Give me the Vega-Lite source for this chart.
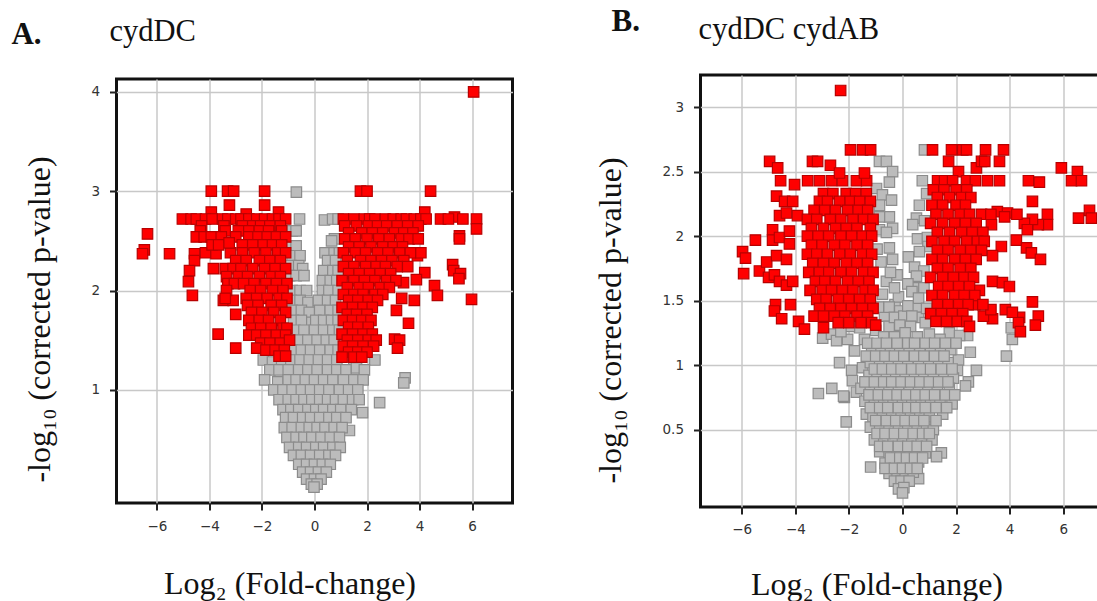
{"$schema":"https://vega.github.io/schema/vega-lite/v6.json","padding":{"left":9.5,"top":4,"right":0,"bottom":0},"background":"white","spacing":188,"center":true,"bounds":"flush","config":{"view":{"stroke":"#111","strokeWidth":3},"axis":{"grid":true,"gridColor":"#c8c8c8","gridWidth":1.5,"domain":false,"tickColor":"#222","tickWidth":2,"tickSize":7,"labelFont":"DejaVu Sans","labelFontSize":13.5,"labelColor":"#333","titleFont":"Liberation Serif","titleFontSize":32,"titleFontWeight":"normal","titleColor":"#111"}},"datasets":{"aGray":[{"x":-0.69,"y":2.99},{"x":-0.57,"y":2.72},{"x":0.38,"y":2.71},{"x":0.69,"y":2.72},{"x":0.9,"y":2.72},{"x":0.76,"y":2.52},{"x":0.65,"y":2.5},{"x":-0.85,"y":2.6},{"x":-0.7,"y":2.6},{"x":-0.9,"y":2.45},{"x":-0.7,"y":2.45},{"x":-0.85,"y":2.35},{"x":-0.55,"y":2.35},{"x":-0.9,"y":2.25},{"x":-0.6,"y":2.25},{"x":-0.45,"y":2.22},{"x":-0.95,"y":2.15},{"x":-0.7,"y":2.15},{"x":-0.4,"y":2.15},{"x":-0.85,"y":2.0},{"x":-0.55,"y":2.0},{"x":-0.3,"y":2.0},{"x":-0.9,"y":1.9},{"x":-0.55,"y":1.9},{"x":-0.25,"y":1.88},{"x":-0.85,"y":1.8},{"x":-0.5,"y":1.8},{"x":-0.2,"y":1.78},{"x":-0.8,"y":1.7},{"x":-0.5,"y":1.7},{"x":-0.1,"y":1.68},{"x":0.4,"y":2.38},{"x":0.75,"y":2.38},{"x":0.95,"y":2.38},{"x":0.5,"y":2.3},{"x":0.8,"y":2.3},{"x":0.35,"y":2.2},{"x":0.7,"y":2.2},{"x":0.9,"y":2.2},{"x":0.3,"y":2.1},{"x":0.6,"y":2.1},{"x":0.85,"y":2.1},{"x":0.3,"y":2.0},{"x":0.55,"y":2.0},{"x":0.9,"y":2.0},{"x":0.15,"y":1.9},{"x":0.5,"y":1.9},{"x":0.8,"y":1.9},{"x":0.2,"y":1.8},{"x":0.6,"y":1.8},{"x":0.9,"y":1.8},{"x":0.05,"y":1.7},{"x":0.35,"y":1.7},{"x":0.65,"y":1.7},{"x":0.9,"y":1.7},{"x":-0.75,"y":1.6},{"x":-0.4,"y":1.6},{"x":0.0,"y":1.6},{"x":0.35,"y":1.6},{"x":0.7,"y":1.6},{"x":0.95,"y":1.6},{"x":-0.95,"y":1.5},{"x":-0.6,"y":1.5},{"x":-0.25,"y":1.5},{"x":0.1,"y":1.5},{"x":0.45,"y":1.5},{"x":0.75,"y":1.5},{"x":-0.85,"y":1.4},{"x":-0.5,"y":1.4},{"x":-0.15,"y":1.4},{"x":0.2,"y":1.4},{"x":0.6,"y":1.4},{"x":0.9,"y":1.4},{"x":-1.95,"y":1.3},{"x":-1.6,"y":1.28},{"x":-1.25,"y":1.3},{"x":-0.9,"y":1.3},{"x":-0.55,"y":1.3},{"x":-0.2,"y":1.3},{"x":0.15,"y":1.3},{"x":0.5,"y":1.3},{"x":0.85,"y":1.3},{"x":1.5,"y":1.3},{"x":2.3,"y":1.3},{"x":-1.7,"y":1.2},{"x":-1.35,"y":1.2},{"x":-1.0,"y":1.2},{"x":-0.6,"y":1.2},{"x":-0.25,"y":1.2},{"x":0.1,"y":1.2},{"x":0.5,"y":1.2},{"x":0.85,"y":1.2},{"x":1.2,"y":1.2},{"x":1.6,"y":1.22},{"x":1.9,"y":1.2},{"x":-1.9,"y":1.1},{"x":-1.4,"y":1.08},{"x":-1.0,"y":1.1},{"x":-0.7,"y":1.1},{"x":-0.35,"y":1.1},{"x":0.0,"y":1.1},{"x":0.35,"y":1.1},{"x":0.7,"y":1.1},{"x":1.1,"y":1.1},{"x":1.5,"y":1.1},{"x":1.85,"y":1.1},{"x":-1.55,"y":1.0},{"x":-1.2,"y":1.0},{"x":-0.85,"y":1.0},{"x":-0.5,"y":1.0},{"x":-0.15,"y":1.0},{"x":0.2,"y":1.0},{"x":0.55,"y":1.0},{"x":0.95,"y":1.0},{"x":1.3,"y":1.0},{"x":1.65,"y":1.0},{"x":3.45,"y":1.12},{"x":3.4,"y":1.07},{"x":2.48,"y":0.87},{"x":1.83,"y":0.77},{"x":1.33,"y":0.59},{"x":-1.35,"y":0.9},{"x":-1.0,"y":0.9},{"x":-0.7,"y":0.9},{"x":-0.4,"y":0.9},{"x":-0.1,"y":0.9},{"x":0.2,"y":0.9},{"x":0.5,"y":0.9},{"x":0.8,"y":0.9},{"x":1.1,"y":0.9},{"x":1.45,"y":0.9},{"x":1.7,"y":0.9},{"x":-1.2,"y":0.8},{"x":-0.9,"y":0.8},{"x":-0.6,"y":0.8},{"x":-0.25,"y":0.8},{"x":0.05,"y":0.8},{"x":0.35,"y":0.8},{"x":0.7,"y":0.8},{"x":1.0,"y":0.8},{"x":1.4,"y":0.8},{"x":-1.1,"y":0.72},{"x":-0.8,"y":0.72},{"x":-0.45,"y":0.72},{"x":-0.15,"y":0.72},{"x":0.2,"y":0.72},{"x":0.55,"y":0.72},{"x":0.85,"y":0.72},{"x":1.2,"y":0.72},{"x":-1.15,"y":0.62},{"x":-0.85,"y":0.62},{"x":-0.5,"y":0.62},{"x":-0.2,"y":0.62},{"x":0.1,"y":0.62},{"x":0.4,"y":0.62},{"x":0.75,"y":0.62},{"x":1.05,"y":0.62},{"x":-1.05,"y":0.52},{"x":-0.7,"y":0.52},{"x":-0.4,"y":0.52},{"x":-0.1,"y":0.52},{"x":0.25,"y":0.52},{"x":0.6,"y":0.52},{"x":0.95,"y":0.52},{"x":-0.95,"y":0.42},{"x":-0.6,"y":0.42},{"x":-0.3,"y":0.42},{"x":0.05,"y":0.42},{"x":0.35,"y":0.42},{"x":0.7,"y":0.42},{"x":0.98,"y":0.42},{"x":-0.8,"y":0.34},{"x":-0.5,"y":0.34},{"x":-0.15,"y":0.34},{"x":0.2,"y":0.34},{"x":0.55,"y":0.34},{"x":0.8,"y":0.34},{"x":-0.6,"y":0.25},{"x":-0.3,"y":0.25},{"x":0.0,"y":0.25},{"x":0.3,"y":0.25},{"x":0.6,"y":0.25},{"x":-0.45,"y":0.17},{"x":-0.15,"y":0.17},{"x":0.15,"y":0.17},{"x":0.45,"y":0.17},{"x":-0.3,"y":0.1},{"x":0.0,"y":0.1},{"x":0.25,"y":0.1},{"x":-0.12,"y":0.05},{"x":0.1,"y":0.05},{"x":-0.02,"y":0.02}],"aRed":[{"x":-6.36,"y":2.57},{"x":-6.48,"y":2.41},{"x":-6.55,"y":2.37},{"x":-5.52,"y":2.37},{"x":-3.93,"y":3.0},{"x":-3.31,"y":3.0},{"x":-3.08,"y":3.0},{"x":-1.9,"y":3.0},{"x":-3.24,"y":2.86},{"x":-1.9,"y":2.86},{"x":-3.93,"y":2.79},{"x":-2.6,"y":2.77},{"x":-1.37,"y":2.79},{"x":-4.57,"y":2.37},{"x":-4.57,"y":2.3},{"x":-4.76,"y":2.2},{"x":-4.8,"y":2.09},{"x":-4.65,"y":1.95},{"x":-3.85,"y":2.22},{"x":-3.47,"y":1.9},{"x":-3.1,"y":1.9},{"x":-3.0,"y":1.76},{"x":-3.67,"y":1.56},{"x":-3.0,"y":1.42},{"x":-4.15,"y":2.38},{"x":-3.75,"y":2.37},{"x":-3.2,"y":2.38},{"x":-5.03,"y":2.72},{"x":-4.7,"y":2.72},{"x":-4.5,"y":2.72},{"x":-4.15,"y":2.72},{"x":-3.9,"y":2.72},{"x":-3.5,"y":2.72},{"x":-3.3,"y":2.72},{"x":-3.0,"y":2.72},{"x":-2.8,"y":2.72},{"x":-2.5,"y":2.72},{"x":-2.2,"y":2.72},{"x":-1.9,"y":2.72},{"x":-1.6,"y":2.72},{"x":-1.35,"y":2.72},{"x":-1.1,"y":2.72},{"x":-4.3,"y":2.65},{"x":-3.45,"y":2.65},{"x":-2.75,"y":2.65},{"x":-2.35,"y":2.65},{"x":-2.05,"y":2.65},{"x":-1.7,"y":2.65},{"x":-1.3,"y":2.65},{"x":-4.35,"y":2.6},{"x":-3.4,"y":2.6},{"x":-2.9,"y":2.6},{"x":-2.5,"y":2.6},{"x":-2.1,"y":2.6},{"x":-1.75,"y":2.6},{"x":-1.25,"y":2.6},{"x":-4.5,"y":2.54},{"x":-4.2,"y":2.54},{"x":-3.93,"y":2.54},{"x":-3.55,"y":2.54},{"x":-3.0,"y":2.54},{"x":-2.5,"y":2.54},{"x":-2.15,"y":2.54},{"x":-1.8,"y":2.54},{"x":-1.45,"y":2.54},{"x":-1.1,"y":2.54},{"x":-3.9,"y":2.46},{"x":-3.65,"y":2.46},{"x":-3.25,"y":2.48},{"x":-2.75,"y":2.46},{"x":-2.35,"y":2.46},{"x":-1.95,"y":2.46},{"x":-1.6,"y":2.46},{"x":-1.25,"y":2.46},{"x":-2.75,"y":2.38},{"x":-2.3,"y":2.38},{"x":-1.85,"y":2.38},{"x":-1.4,"y":2.38},{"x":-1.1,"y":2.38},{"x":-3.0,"y":2.3},{"x":-2.6,"y":2.3},{"x":-2.1,"y":2.3},{"x":-1.7,"y":2.3},{"x":-1.3,"y":2.3},{"x":-3.4,"y":2.22},{"x":-3.1,"y":2.22},{"x":-2.8,"y":2.22},{"x":-2.35,"y":2.22},{"x":-1.9,"y":2.22},{"x":-1.5,"y":2.22},{"x":-1.1,"y":2.22},{"x":-3.35,"y":2.14},{"x":-2.9,"y":2.14},{"x":-2.55,"y":2.14},{"x":-2.1,"y":2.14},{"x":-1.65,"y":2.14},{"x":-1.3,"y":2.14},{"x":-3.3,"y":2.07},{"x":-3.05,"y":2.07},{"x":-2.7,"y":2.07},{"x":-2.3,"y":2.07},{"x":-1.85,"y":2.07},{"x":-1.45,"y":2.07},{"x":-1.05,"y":2.07},{"x":-3.35,"y":2.0},{"x":-2.45,"y":2.0},{"x":-2.05,"y":2.0},{"x":-1.6,"y":2.0},{"x":-1.2,"y":2.0},{"x":-3.4,"y":1.92},{"x":-2.6,"y":1.92},{"x":-2.2,"y":1.92},{"x":-1.8,"y":1.92},{"x":-1.35,"y":1.92},{"x":-1.05,"y":1.92},{"x":-2.55,"y":1.85},{"x":-2.15,"y":1.85},{"x":-1.65,"y":1.85},{"x":-1.25,"y":1.85},{"x":-2.4,"y":1.78},{"x":-2.0,"y":1.78},{"x":-1.55,"y":1.78},{"x":-1.1,"y":1.78},{"x":-2.5,"y":1.7},{"x":-2.1,"y":1.7},{"x":-1.75,"y":1.7},{"x":-1.3,"y":1.7},{"x":-2.4,"y":1.62},{"x":-2.05,"y":1.62},{"x":-1.65,"y":1.62},{"x":-1.2,"y":1.62},{"x":-1.05,"y":1.62},{"x":-2.5,"y":1.55},{"x":-2.2,"y":1.55},{"x":-1.85,"y":1.55},{"x":-1.45,"y":1.55},{"x":-1.1,"y":1.55},{"x":-2.05,"y":1.47},{"x":-1.7,"y":1.47},{"x":-1.3,"y":1.47},{"x":-0.95,"y":1.5},{"x":-2.2,"y":1.42},{"x":-1.85,"y":1.4},{"x":-1.5,"y":1.4},{"x":-1.15,"y":1.4},{"x":-1.35,"y":1.34},{"x":-1.1,"y":1.34},{"x":1.75,"y":3.0},{"x":2.0,"y":3.0},{"x":4.42,"y":3.0},{"x":4.2,"y":2.79},{"x":1.1,"y":2.72},{"x":1.5,"y":2.72},{"x":1.9,"y":2.72},{"x":2.1,"y":2.72},{"x":2.3,"y":2.72},{"x":2.7,"y":2.72},{"x":3.0,"y":2.72},{"x":3.3,"y":2.72},{"x":3.5,"y":2.72},{"x":3.8,"y":2.72},{"x":4.05,"y":2.72},{"x":4.25,"y":2.72},{"x":4.8,"y":2.72},{"x":5.33,"y":2.74},{"x":5.1,"y":2.72},{"x":5.65,"y":2.72},{"x":6.17,"y":2.72},{"x":6.17,"y":2.62},{"x":5.52,"y":2.55},{"x":5.52,"y":2.52},{"x":5.26,"y":2.26},{"x":5.3,"y":2.2},{"x":5.56,"y":2.17},{"x":5.5,"y":2.12},{"x":4.57,"y":2.05},{"x":4.68,"y":1.95},{"x":5.98,"y":1.91},{"x":6.06,"y":4.0},{"x":4.2,"y":2.18},{"x":3.92,"y":2.35},{"x":4.05,"y":2.38},{"x":3.8,"y":1.9},{"x":3.32,"y":1.92},{"x":3.12,"y":1.8},{"x":3.58,"y":1.67},{"x":3.05,"y":1.51},{"x":3.24,"y":1.5},{"x":3.16,"y":1.42},{"x":3.88,"y":2.11},{"x":3.39,"y":2.08},{"x":1.15,"y":2.65},{"x":1.6,"y":2.65},{"x":2.05,"y":2.65},{"x":2.4,"y":2.65},{"x":2.75,"y":2.65},{"x":3.15,"y":2.65},{"x":3.55,"y":2.65},{"x":3.95,"y":2.65},{"x":1.3,"y":2.58},{"x":1.8,"y":2.58},{"x":2.2,"y":2.58},{"x":2.6,"y":2.58},{"x":3.05,"y":2.58},{"x":3.4,"y":2.58},{"x":3.75,"y":2.58},{"x":1.15,"y":2.52},{"x":1.55,"y":2.52},{"x":2.0,"y":2.52},{"x":2.45,"y":2.52},{"x":2.85,"y":2.52},{"x":3.3,"y":2.52},{"x":3.6,"y":2.52},{"x":3.95,"y":2.52},{"x":1.3,"y":2.44},{"x":1.7,"y":2.44},{"x":2.15,"y":2.44},{"x":2.6,"y":2.44},{"x":3.0,"y":2.44},{"x":3.35,"y":2.44},{"x":1.1,"y":2.38},{"x":1.55,"y":2.38},{"x":1.95,"y":2.38},{"x":2.4,"y":2.38},{"x":2.8,"y":2.38},{"x":3.25,"y":2.38},{"x":3.65,"y":2.38},{"x":1.25,"y":2.3},{"x":1.75,"y":2.3},{"x":2.15,"y":2.3},{"x":2.55,"y":2.3},{"x":2.95,"y":2.3},{"x":3.4,"y":2.3},{"x":1.1,"y":2.24},{"x":1.5,"y":2.24},{"x":1.95,"y":2.24},{"x":2.35,"y":2.24},{"x":2.7,"y":2.24},{"x":3.15,"y":2.24},{"x":3.55,"y":2.24},{"x":1.3,"y":2.17},{"x":1.7,"y":2.17},{"x":2.1,"y":2.17},{"x":2.5,"y":2.17},{"x":2.9,"y":2.17},{"x":1.05,"y":2.1},{"x":1.5,"y":2.1},{"x":1.9,"y":2.1},{"x":2.3,"y":2.1},{"x":2.75,"y":2.1},{"x":3.1,"y":2.1},{"x":1.25,"y":2.03},{"x":1.7,"y":2.03},{"x":2.05,"y":2.03},{"x":2.5,"y":2.03},{"x":2.85,"y":2.03},{"x":1.1,"y":1.96},{"x":1.5,"y":1.96},{"x":1.85,"y":1.96},{"x":2.3,"y":1.96},{"x":2.6,"y":1.96},{"x":1.3,"y":1.9},{"x":1.65,"y":1.9},{"x":2.05,"y":1.9},{"x":2.4,"y":1.9},{"x":1.05,"y":1.83},{"x":1.45,"y":1.83},{"x":1.85,"y":1.83},{"x":2.2,"y":1.83},{"x":1.25,"y":1.76},{"x":1.6,"y":1.76},{"x":2.0,"y":1.76},{"x":1.1,"y":1.7},{"x":1.45,"y":1.7},{"x":1.8,"y":1.7},{"x":2.15,"y":1.7},{"x":1.3,"y":1.63},{"x":1.65,"y":1.63},{"x":2.05,"y":1.63},{"x":1.05,"y":1.56},{"x":1.45,"y":1.56},{"x":1.85,"y":1.56},{"x":2.2,"y":1.56},{"x":1.25,"y":1.5},{"x":1.65,"y":1.5},{"x":2.05,"y":1.5},{"x":2.35,"y":1.5},{"x":1.1,"y":1.44},{"x":1.45,"y":1.44},{"x":1.85,"y":1.44},{"x":2.25,"y":1.44},{"x":1.3,"y":1.38},{"x":1.65,"y":1.38},{"x":2.0,"y":1.38},{"x":1.05,"y":1.33},{"x":1.5,"y":1.33},{"x":1.8,"y":1.33}],"bGray":[{"x":0.82,"y":2.67},{"x":-0.86,"y":2.58},{"x":-0.6,"y":2.58},{"x":-0.37,"y":2.5},{"x":-0.49,"y":2.42},{"x":-0.97,"y":2.37},{"x":-0.75,"y":2.32},{"x":-0.41,"y":2.28},{"x":-0.86,"y":2.24},{"x":-0.49,"y":2.15},{"x":-0.86,"y":2.15},{"x":-0.37,"y":2.06},{"x":-0.86,"y":2.05},{"x":-0.6,"y":2.03},{"x":-0.49,"y":1.91},{"x":-0.95,"y":1.9},{"x":-0.37,"y":1.82},{"x":-0.8,"y":1.8},{"x":-0.6,"y":1.65},{"x":-0.2,"y":1.7},{"x":-0.75,"y":1.55},{"x":-0.28,"y":1.47},{"x":-0.67,"y":1.38},{"x":-0.5,"y":1.3},{"x":-0.15,"y":1.53},{"x":-0.45,"y":1.72},{"x":-0.9,"y":1.45},{"x":-0.5,"y":1.45},{"x":-0.1,"y":1.42},{"x":0.55,"y":1.45},{"x":-0.3,"y":1.6},{"x":0.55,"y":1.6},{"x":-0.3,"y":1.37},{"x":0.05,"y":1.38},{"x":0.6,"y":1.37},{"x":0.74,"y":2.43},{"x":0.9,"y":2.33},{"x":0.63,"y":2.24},{"x":0.52,"y":2.14},{"x":0.38,"y":2.09},{"x":0.82,"y":2.12},{"x":0.56,"y":1.98},{"x":0.93,"y":1.99},{"x":0.95,"y":1.92},{"x":0.63,"y":1.88},{"x":0.22,"y":1.84},{"x":0.45,"y":1.76},{"x":0.8,"y":1.73},{"x":0.52,"y":1.69},{"x":0.2,"y":1.63},{"x":0.8,"y":1.6},{"x":0.35,"y":1.57},{"x":0.6,"y":1.52},{"x":0.2,"y":1.46},{"x":0.9,"y":1.44},{"x":0.35,"y":1.38},{"x":-0.1,"y":1.31},{"x":0.3,"y":1.3},{"x":0.85,"y":1.33},{"x":4.06,"y":1.29},{"x":4.1,"y":1.2},{"x":3.88,"y":1.07},{"x":-3.14,"y":0.78},{"x":-2.64,"y":0.82},{"x":-2.17,"y":0.75},{"x":-2.2,"y":0.76},{"x":-1.72,"y":0.79},{"x":-2.1,"y":0.56},{"x":-1.19,"y":0.21},{"x":1.45,"y":0.32},{"x":1.27,"y":0.29},{"x":0.6,"y":0.12},{"x":2.76,"y":0.96},{"x":2.53,"y":1.1},{"x":2.46,"y":0.87},{"x":2.35,"y":0.84},{"x":2.09,"y":1.04},{"x":2.05,"y":0.96},{"x":1.75,"y":1.25},{"x":2.43,"y":1.23},{"x":2.13,"y":1.23},{"x":-2.98,"y":1.21},{"x":-2.65,"y":1.24},{"x":-2.46,"y":1.19},{"x":-2.05,"y":1.2},{"x":-1.79,"y":1.11},{"x":-2.35,"y":1.02},{"x":-1.9,"y":0.96},{"x":-1.87,"y":0.88},{"x":-1.42,"y":1.2},{"x":-1.49,"y":0.98},{"x":-1.6,"y":1.29},{"x":-1.98,"y":1.3},{"x":-2.3,"y":1.26},{"x":-1.0,"y":1.27},{"x":-0.7,"y":1.22},{"x":-0.3,"y":1.22},{"x":0.1,"y":1.25},{"x":0.55,"y":1.22},{"x":1.0,"y":1.24},{"x":1.4,"y":1.2},{"x":-1.15,"y":1.12},{"x":-0.8,"y":1.12},{"x":-0.45,"y":1.13},{"x":-0.1,"y":1.1},{"x":0.25,"y":1.13},{"x":0.65,"y":1.12},{"x":1.05,"y":1.12},{"x":1.42,"y":1.1},{"x":1.8,"y":1.12},{"x":-1.2,"y":1.02},{"x":-0.85,"y":1.03},{"x":-0.5,"y":1.0},{"x":-0.15,"y":1.03},{"x":0.2,"y":1.0},{"x":0.6,"y":1.02},{"x":0.98,"y":1.03},{"x":1.35,"y":1.0},{"x":1.7,"y":1.02},{"x":-1.25,"y":0.92},{"x":-0.95,"y":0.91},{"x":-0.6,"y":0.92},{"x":-0.25,"y":0.9},{"x":0.1,"y":0.92},{"x":0.45,"y":0.9},{"x":0.8,"y":0.92},{"x":1.15,"y":0.9},{"x":1.55,"y":0.91},{"x":1.9,"y":0.9},{"x":-1.55,"y":0.82},{"x":-1.2,"y":0.82},{"x":-0.85,"y":0.8},{"x":-0.5,"y":0.82},{"x":-0.15,"y":0.8},{"x":0.25,"y":0.82},{"x":0.6,"y":0.8},{"x":0.95,"y":0.82},{"x":1.3,"y":0.8},{"x":1.75,"y":0.82},{"x":-1.4,"y":0.72},{"x":-1.05,"y":0.7},{"x":-0.7,"y":0.72},{"x":-0.35,"y":0.7},{"x":0.0,"y":0.72},{"x":0.35,"y":0.7},{"x":0.7,"y":0.72},{"x":1.05,"y":0.7},{"x":1.4,"y":0.72},{"x":1.85,"y":0.7},{"x":-1.35,"y":0.62},{"x":-1.1,"y":0.6},{"x":-0.75,"y":0.62},{"x":-0.4,"y":0.6},{"x":-0.05,"y":0.62},{"x":0.3,"y":0.6},{"x":0.65,"y":0.62},{"x":1.0,"y":0.6},{"x":1.5,"y":0.62},{"x":-1.2,"y":0.52},{"x":-0.85,"y":0.5},{"x":-0.5,"y":0.52},{"x":-0.15,"y":0.5},{"x":0.2,"y":0.52},{"x":0.55,"y":0.5},{"x":0.9,"y":0.52},{"x":1.15,"y":0.5},{"x":-1.05,"y":0.42},{"x":-0.7,"y":0.42},{"x":-0.35,"y":0.41},{"x":0.0,"y":0.42},{"x":0.35,"y":0.4},{"x":0.7,"y":0.42},{"x":1.1,"y":0.42},{"x":-0.85,"y":0.33},{"x":-0.5,"y":0.32},{"x":-0.2,"y":0.33},{"x":0.15,"y":0.32},{"x":0.5,"y":0.33},{"x":0.85,"y":0.32},{"x":-0.65,"y":0.24},{"x":-0.35,"y":0.24},{"x":-0.05,"y":0.25},{"x":0.3,"y":0.24},{"x":0.6,"y":0.25},{"x":-0.5,"y":0.16},{"x":-0.2,"y":0.17},{"x":0.1,"y":0.16},{"x":0.4,"y":0.17},{"x":-0.3,"y":0.1},{"x":-0.05,"y":0.1},{"x":0.25,"y":0.1},{"x":-0.15,"y":0.04},{"x":0.05,"y":0.05},{"x":0.0,"y":0.01},{"x":-1.3,"y":1.17},{"x":-0.95,"y":1.17},{"x":-0.6,"y":1.17},{"x":-0.2,"y":1.17},{"x":0.2,"y":1.17},{"x":0.45,"y":1.17},{"x":0.85,"y":1.17},{"x":1.2,"y":1.17},{"x":1.6,"y":1.17},{"x":2.0,"y":1.17},{"x":-1.35,"y":1.07},{"x":-1.0,"y":1.07},{"x":-0.65,"y":1.07},{"x":-0.3,"y":1.07},{"x":0.05,"y":1.07},{"x":0.45,"y":1.07},{"x":0.8,"y":1.07},{"x":1.2,"y":1.07},{"x":1.55,"y":1.07},{"x":-1.05,"y":0.97},{"x":-0.75,"y":0.97},{"x":-0.4,"y":0.97},{"x":-0.05,"y":0.97},{"x":0.35,"y":0.97},{"x":0.7,"y":0.97},{"x":1.05,"y":0.97},{"x":1.45,"y":0.97},{"x":1.85,"y":0.97},{"x":-1.4,"y":0.87},{"x":-1.05,"y":0.87},{"x":-0.7,"y":0.87},{"x":-0.4,"y":0.87},{"x":-0.05,"y":0.87},{"x":0.3,"y":0.87},{"x":0.65,"y":0.87},{"x":1.0,"y":0.87},{"x":1.35,"y":0.87},{"x":1.7,"y":0.87},{"x":-1.25,"y":0.77},{"x":-0.9,"y":0.77},{"x":-0.55,"y":0.77},{"x":-0.2,"y":0.77},{"x":0.15,"y":0.77},{"x":0.5,"y":0.77},{"x":0.85,"y":0.77},{"x":1.2,"y":0.77},{"x":1.6,"y":0.77},{"x":1.95,"y":0.77},{"x":-1.2,"y":0.67},{"x":-0.85,"y":0.67},{"x":-0.55,"y":0.67},{"x":-0.15,"y":0.67},{"x":0.2,"y":0.67},{"x":0.5,"y":0.67},{"x":0.85,"y":0.67},{"x":1.25,"y":0.67},{"x":1.65,"y":0.67},{"x":-1.0,"y":0.57},{"x":-0.6,"y":0.57},{"x":-0.25,"y":0.57},{"x":0.1,"y":0.57},{"x":0.45,"y":0.57},{"x":0.8,"y":0.57},{"x":1.25,"y":0.57},{"x":-0.95,"y":0.47},{"x":-0.65,"y":0.47},{"x":-0.3,"y":0.47},{"x":0.05,"y":0.47},{"x":0.4,"y":0.47},{"x":0.75,"y":0.47},{"x":1.0,"y":0.47},{"x":-0.85,"y":0.37},{"x":-0.55,"y":0.37},{"x":-0.15,"y":0.37},{"x":0.2,"y":0.37},{"x":0.55,"y":0.37},{"x":0.9,"y":0.37},{"x":-0.45,"y":0.28},{"x":-0.1,"y":0.28},{"x":0.15,"y":0.28},{"x":0.45,"y":0.28},{"x":0.75,"y":0.28},{"x":-0.65,"y":0.2},{"x":-0.3,"y":0.2},{"x":0.0,"y":0.2},{"x":0.3,"y":0.2},{"x":0.55,"y":0.2}],"bRed":[{"x":-2.31,"y":3.13},{"x":-1.94,"y":2.67},{"x":-1.49,"y":2.67},{"x":-1.19,"y":2.67},{"x":1.12,"y":2.67},{"x":1.83,"y":2.67},{"x":2.25,"y":2.67},{"x":2.39,"y":2.67},{"x":3.1,"y":2.67},{"x":3.77,"y":2.67},{"x":-4.96,"y":2.58},{"x":-4.66,"y":2.53},{"x":-4.55,"y":2.43},{"x":-4.03,"y":2.4},{"x":-3.36,"y":2.58},{"x":-3.17,"y":2.58},{"x":-2.69,"y":2.55},{"x":-3.54,"y":2.43},{"x":-3.1,"y":2.43},{"x":-2.65,"y":2.43},{"x":-2.24,"y":2.43},{"x":-1.72,"y":2.43},{"x":-1.34,"y":2.43},{"x":-2.35,"y":2.49},{"x":-1.42,"y":2.49},{"x":1.72,"y":2.58},{"x":2.76,"y":2.53},{"x":2.95,"y":2.58},{"x":3.07,"y":2.58},{"x":3.62,"y":2.58},{"x":2.09,"y":2.5},{"x":1.31,"y":2.43},{"x":1.57,"y":2.43},{"x":1.87,"y":2.43},{"x":2.39,"y":2.43},{"x":2.72,"y":2.43},{"x":3.17,"y":2.43},{"x":3.62,"y":2.43},{"x":4.7,"y":2.43},{"x":5.11,"y":2.42},{"x":5.93,"y":2.53},{"x":6.53,"y":2.5},{"x":6.31,"y":2.43},{"x":6.68,"y":2.43},{"x":4.85,"y":2.27},{"x":6.98,"y":2.2},{"x":6.57,"y":2.14},{"x":7.05,"y":2.14},{"x":5.41,"y":2.17},{"x":5.41,"y":2.09},{"x":5.07,"y":2.09},{"x":4.85,"y":2.13},{"x":4.55,"y":2.1},{"x":4.66,"y":2.05},{"x":4.25,"y":1.97},{"x":4.63,"y":1.91},{"x":4.81,"y":1.87},{"x":5.15,"y":1.82},{"x":3.69,"y":1.92},{"x":3.36,"y":1.85},{"x":3.36,"y":1.65},{"x":3.73,"y":1.64},{"x":3.99,"y":1.61},{"x":2.87,"y":1.58},{"x":4.85,"y":1.49},{"x":3.84,"y":1.43},{"x":4.37,"y":1.37},{"x":5.07,"y":1.38},{"x":4.33,"y":1.33},{"x":4.96,"y":1.31},{"x":4.4,"y":1.26},{"x":4.1,"y":1.41},{"x":3.36,"y":1.36},{"x":3.02,"y":1.38},{"x":3.3,"y":1.43},{"x":2.7,"y":1.47},{"x":3.54,"y":2.19},{"x":3.92,"y":2.18},{"x":4.27,"y":2.17},{"x":3.81,"y":2.15},{"x":3.32,"y":2.09},{"x":-5.49,"y":1.97},{"x":-5.97,"y":1.88},{"x":-5.86,"y":1.83},{"x":-5.93,"y":1.71},{"x":-5.34,"y":1.73},{"x":-5.07,"y":1.8},{"x":-4.7,"y":1.85},{"x":-4.33,"y":1.82},{"x":-5.0,"y":1.68},{"x":-4.78,"y":1.7},{"x":-4.59,"y":1.65},{"x":-4.33,"y":1.62},{"x":-4.1,"y":1.65},{"x":-4.74,"y":1.47},{"x":-4.18,"y":1.47},{"x":-4.78,"y":1.42},{"x":-4.51,"y":1.36},{"x":-3.88,"y":1.34},{"x":-3.66,"y":1.28},{"x":-4.85,"y":2.05},{"x":-4.85,"y":1.97},{"x":-4.59,"y":1.99},{"x":-4.22,"y":1.94},{"x":-4.7,"y":2.31},{"x":-4.4,"y":2.27},{"x":-4.1,"y":2.27},{"x":-4.59,"y":2.16},{"x":-4.33,"y":2.18},{"x":-3.92,"y":2.16},{"x":-4.22,"y":2.04},{"x":-2.95,"y":2.33},{"x":-2.6,"y":2.33},{"x":-2.1,"y":2.33},{"x":-1.75,"y":2.33},{"x":-1.35,"y":2.33},{"x":-3.1,"y":2.27},{"x":-2.8,"y":2.27},{"x":-2.35,"y":2.27},{"x":-1.95,"y":2.27},{"x":-1.6,"y":2.27},{"x":-1.2,"y":2.27},{"x":-3.3,"y":2.2},{"x":-2.9,"y":2.2},{"x":-2.5,"y":2.2},{"x":-2.05,"y":2.2},{"x":-1.65,"y":2.2},{"x":-1.3,"y":2.2},{"x":-3.55,"y":2.13},{"x":-3.2,"y":2.13},{"x":-2.7,"y":2.13},{"x":-2.3,"y":2.13},{"x":-1.85,"y":2.13},{"x":-1.45,"y":2.13},{"x":-1.1,"y":2.13},{"x":-3.4,"y":2.06},{"x":-2.95,"y":2.06},{"x":-2.5,"y":2.06},{"x":-2.1,"y":2.06},{"x":-1.7,"y":2.06},{"x":-1.2,"y":2.06},{"x":-3.55,"y":2.0},{"x":-3.15,"y":2.0},{"x":-2.75,"y":2.0},{"x":-2.3,"y":2.0},{"x":-1.9,"y":2.0},{"x":-1.5,"y":2.0},{"x":-1.15,"y":2.0},{"x":-3.4,"y":1.93},{"x":-3.0,"y":1.93},{"x":-2.55,"y":1.93},{"x":-2.15,"y":1.93},{"x":-1.7,"y":1.93},{"x":-1.3,"y":1.93},{"x":-3.55,"y":1.86},{"x":-3.2,"y":1.86},{"x":-2.8,"y":1.86},{"x":-2.35,"y":1.86},{"x":-1.95,"y":1.86},{"x":-1.5,"y":1.86},{"x":-1.15,"y":1.86},{"x":-3.35,"y":1.79},{"x":-2.95,"y":1.79},{"x":-2.55,"y":1.79},{"x":-2.1,"y":1.79},{"x":-1.7,"y":1.79},{"x":-1.3,"y":1.79},{"x":-3.5,"y":1.72},{"x":-3.1,"y":1.72},{"x":-2.75,"y":1.72},{"x":-2.3,"y":1.72},{"x":-1.9,"y":1.72},{"x":-1.45,"y":1.72},{"x":-1.1,"y":1.72},{"x":-3.25,"y":1.65},{"x":-2.9,"y":1.65},{"x":-2.5,"y":1.65},{"x":-2.05,"y":1.65},{"x":-1.65,"y":1.65},{"x":-1.25,"y":1.65},{"x":-3.45,"y":1.58},{"x":-3.0,"y":1.58},{"x":-2.65,"y":1.58},{"x":-2.25,"y":1.58},{"x":-1.85,"y":1.58},{"x":-1.4,"y":1.58},{"x":-1.1,"y":1.58},{"x":-3.2,"y":1.51},{"x":-2.85,"y":1.51},{"x":-2.4,"y":1.51},{"x":-2.0,"y":1.51},{"x":-1.6,"y":1.51},{"x":-1.2,"y":1.51},{"x":-3.1,"y":1.44},{"x":-2.7,"y":1.44},{"x":-2.3,"y":1.44},{"x":-1.9,"y":1.44},{"x":-1.5,"y":1.44},{"x":-1.1,"y":1.44},{"x":-3.3,"y":1.38},{"x":-2.95,"y":1.38},{"x":-2.55,"y":1.38},{"x":-2.15,"y":1.38},{"x":-1.7,"y":1.38},{"x":-1.3,"y":1.38},{"x":-2.95,"y":1.29},{"x":-2.4,"y":1.33},{"x":-2.0,"y":1.33},{"x":-1.55,"y":1.33},{"x":-1.15,"y":1.33},{"x":-1.0,"y":1.31},{"x":1.15,"y":2.36},{"x":1.55,"y":2.36},{"x":2.0,"y":2.36},{"x":2.4,"y":2.36},{"x":1.3,"y":2.3},{"x":1.75,"y":2.3},{"x":2.2,"y":2.3},{"x":2.55,"y":2.3},{"x":1.1,"y":2.24},{"x":1.5,"y":2.24},{"x":2.0,"y":2.24},{"x":2.35,"y":2.24},{"x":1.25,"y":2.17},{"x":1.7,"y":2.17},{"x":2.15,"y":2.17},{"x":2.5,"y":2.17},{"x":2.95,"y":2.17},{"x":3.3,"y":2.17},{"x":1.05,"y":2.1},{"x":1.5,"y":2.1},{"x":1.95,"y":2.1},{"x":2.35,"y":2.1},{"x":2.75,"y":2.1},{"x":1.3,"y":2.03},{"x":1.75,"y":2.03},{"x":2.2,"y":2.03},{"x":2.6,"y":2.03},{"x":3.0,"y":2.03},{"x":1.1,"y":1.96},{"x":1.55,"y":1.96},{"x":1.95,"y":1.96},{"x":2.4,"y":1.96},{"x":2.8,"y":1.96},{"x":3.05,"y":1.96},{"x":1.3,"y":1.89},{"x":1.7,"y":1.89},{"x":2.15,"y":1.89},{"x":2.55,"y":1.89},{"x":2.95,"y":1.89},{"x":1.1,"y":1.82},{"x":1.5,"y":1.82},{"x":1.95,"y":1.82},{"x":2.35,"y":1.82},{"x":2.75,"y":1.82},{"x":1.3,"y":1.75},{"x":1.7,"y":1.75},{"x":2.15,"y":1.75},{"x":2.55,"y":1.75},{"x":1.05,"y":1.68},{"x":1.5,"y":1.68},{"x":1.9,"y":1.68},{"x":2.3,"y":1.68},{"x":2.65,"y":1.68},{"x":1.35,"y":1.61},{"x":1.7,"y":1.61},{"x":2.1,"y":1.61},{"x":2.5,"y":1.61},{"x":1.1,"y":1.54},{"x":1.5,"y":1.54},{"x":1.95,"y":1.54},{"x":2.3,"y":1.54},{"x":2.7,"y":1.54},{"x":1.3,"y":1.47},{"x":1.7,"y":1.47},{"x":2.1,"y":1.47},{"x":2.45,"y":1.47},{"x":3.0,"y":1.47},{"x":1.05,"y":1.4},{"x":1.45,"y":1.4},{"x":1.85,"y":1.4},{"x":2.25,"y":1.4},{"x":1.25,"y":1.34},{"x":1.65,"y":1.34},{"x":2.05,"y":1.34},{"x":2.4,"y":1.34},{"x":2.5,"y":1.3}]},"hconcat":[{"width":396,"height":424,"layer":[{"data":{"name":"aGray"},"mark":{"type":"square","size":110,"fill":"#bcbcbc","stroke":"#8c8c8c","strokeWidth":1.2,"opacity":1,"clip":true},"encoding":{"x":{"field":"x","type":"quantitative","scale":{"domain":[-7.54,7.54],"nice":false,"zero":false},"axis":{"values":[-6,-4,-2,0,2,4,6],"title":"Log₂ (Fold-change)","titlePadding":36,"labelPadding":9,"titleX":173}},"y":{"field":"y","type":"quantitative","scale":{"domain":[-0.14,4.13],"nice":false,"zero":false},"axis":{"values":[1,2,3,4],"title":"-log₁₀ (corrected p-value)","titlePadding":34,"labelPadding":10,"format":"d","titleY":240}}}},{"data":{"name":"aRed"},"mark":{"type":"square","size":110,"fill":"#ff0000","stroke":"#b80000","strokeWidth":1.2,"opacity":1,"clip":true},"encoding":{"x":{"field":"x","type":"quantitative"},"y":{"field":"y","type":"quantitative"}}},{"mark":{"type":"rule","color":"#2aa82a","strokeWidth":1.5},"encoding":{"x":{"datum":-1}}},{"mark":{"type":"rule","color":"#2aa82a","strokeWidth":1.5},"encoding":{"x":{"datum":1}}},{"mark":{"type":"rule","color":"#2aa82a","strokeWidth":1.5},"encoding":{"y":{"datum":1.3}}},{"data":{"values":[{"x":-11.54,"y":4.48,"t":"A."}]},"mark":{"type":"text","font":"Liberation Serif","fontSize":31,"fontWeight":"bold","align":"left","baseline":"alphabetic","color":"#111"},"encoding":{"x":{"field":"x","type":"quantitative"},"y":{"field":"y","type":"quantitative"},"text":{"field":"t"}}},{"data":{"values":[{"x":-7.81,"y":4.51,"t":"cydDC"}]},"mark":{"type":"text","font":"Liberation Serif","fontSize":30.5,"align":"left","baseline":"alphabetic","color":"#111"},"encoding":{"x":{"field":"x","type":"quantitative"},"y":{"field":"y","type":"quantitative"},"text":{"field":"t"}}}]},{"width":404,"height":432,"layer":[{"data":{"name":"bGray"},"mark":{"type":"square","size":110,"fill":"#bcbcbc","stroke":"#8c8c8c","strokeWidth":1.2,"opacity":1,"clip":true},"encoding":{"x":{"field":"x","type":"quantitative","scale":{"domain":[-7.54,7.54],"nice":false,"zero":false},"axis":{"values":[-6,-4,-2,0,2,4,6],"title":"Log₂ (Fold-change)","titlePadding":34,"labelPadding":8,"titleX":176}},"y":{"field":"y","type":"quantitative","scale":{"domain":[-0.1,3.25],"nice":false,"zero":false},"axis":{"values":[0.5,1,1.5,2,2.5,3],"title":"-log₁₀ (corrected p-value)","titlePadding":35,"labelPadding":10,"format":"~g","titleY":245}}}},{"data":{"name":"bRed"},"mark":{"type":"square","size":110,"fill":"#ff0000","stroke":"#b80000","strokeWidth":1.2,"opacity":1,"clip":true},"encoding":{"x":{"field":"x","type":"quantitative"},"y":{"field":"y","type":"quantitative"}}},{"mark":{"type":"rule","color":"#2aa82a","strokeWidth":1.5},"encoding":{"x":{"datum":-1}}},{"mark":{"type":"rule","color":"#2aa82a","strokeWidth":1.5},"encoding":{"x":{"datum":1}}},{"mark":{"type":"rule","color":"#2aa82a","strokeWidth":1.5},"encoding":{"y":{"datum":1.3}}},{"data":{"values":[{"x":-10.86,"y":3.59,"t":"B."}]},"mark":{"type":"text","font":"Liberation Serif","fontSize":31,"fontWeight":"bold","align":"left","baseline":"alphabetic","color":"#111"},"encoding":{"x":{"field":"x","type":"quantitative"},"y":{"field":"y","type":"quantitative"},"text":{"field":"t"}}},{"data":{"values":[{"x":-7.61,"y":3.53,"t":"cydDC cydAB"}]},"mark":{"type":"text","font":"Liberation Serif","fontSize":30.5,"align":"left","baseline":"alphabetic","color":"#111"},"encoding":{"x":{"field":"x","type":"quantitative"},"y":{"field":"y","type":"quantitative"},"text":{"field":"t"}}}]}]}
